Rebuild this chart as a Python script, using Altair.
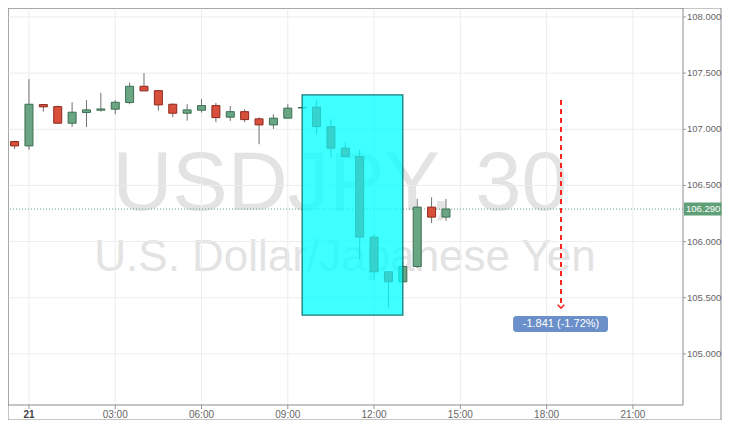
import altair as alt
import pandas as pd

# ---------------- data ----------------
times = [
    "2016-07-20T23:30:00Z", "2016-07-21T00:00:00Z", "2016-07-21T00:30:00Z", "2016-07-21T01:00:00Z",
    "2016-07-21T01:30:00Z", "2016-07-21T02:00:00Z", "2016-07-21T02:30:00Z", "2016-07-21T03:00:00Z",
    "2016-07-21T03:30:00Z", "2016-07-21T04:00:00Z", "2016-07-21T04:30:00Z", "2016-07-21T05:00:00Z",
    "2016-07-21T05:30:00Z", "2016-07-21T06:00:00Z", "2016-07-21T06:30:00Z", "2016-07-21T07:00:00Z",
    "2016-07-21T07:30:00Z", "2016-07-21T08:00:00Z", "2016-07-21T08:30:00Z", "2016-07-21T09:00:00Z",
    "2016-07-21T09:30:00Z", "2016-07-21T10:00:00Z", "2016-07-21T10:30:00Z", "2016-07-21T11:00:00Z",
    "2016-07-21T11:30:00Z", "2016-07-21T12:00:00Z", "2016-07-21T12:30:00Z", "2016-07-21T13:00:00Z",
    "2016-07-21T13:30:00Z", "2016-07-21T14:00:00Z", "2016-07-21T14:30:00Z",
]
opens = [106.891, 106.852, 107.220, 107.202, 107.054, 107.149, 107.170, 107.179,
         107.238, 107.383, 107.344, 107.223, 107.143, 107.170, 107.211, 107.108,
         107.157, 107.093, 107.039, 107.099, 107.190, 107.197, 107.024, 106.832,
         106.757, 106.040, 105.731, 105.642, 105.778, 106.307, 106.218]
closes = [106.852, 107.223, 107.200, 107.054, 107.152, 107.173, 107.181, 107.241,
          107.383, 107.342, 107.217, 107.143, 107.173, 107.211, 107.104, 107.157,
          107.086, 107.039, 107.099, 107.188, 107.194, 107.024, 106.832, 106.757,
          106.040, 105.731, 105.642, 105.778, 106.307, 106.218, 106.290]
highs = [106.897, 107.446, 107.225, 107.211, 107.241, 107.259, 107.324, 107.259,
         107.415, 107.499, 107.344, 107.232, 107.223, 107.270, 107.235, 107.206,
         107.179, 107.108, 107.134, 107.223, 107.196, 107.255, 107.090, 106.885,
         106.817, 106.067, 105.731, 105.820, 106.381, 106.394, 106.380]
lows = [106.823, 106.817, 107.157, 107.054, 107.021, 107.021, 107.157, 107.134,
        107.223, 107.342, 107.166, 107.108, 107.077, 107.149, 107.063, 107.075,
        107.063, 106.867, 107.004, 107.099, 107.190, 106.956, 106.748, 106.757,
        105.844, 105.654, 105.414, 105.642, 105.765, 106.165, 106.185]

tick_times = ["2016-07-21T00:00:00Z", "2016-07-21T03:00:00Z", "2016-07-21T06:00:00Z",
              "2016-07-21T09:00:00Z", "2016-07-21T12:00:00Z", "2016-07-21T15:00:00Z",
              "2016-07-21T18:00:00Z", "2016-07-21T21:00:00Z"]
tick_labels = ["21", "03:00", "06:00", "09:00", "12:00", "15:00", "18:00", "21:00"]
price_ticks = [105.0, 105.5, 106.0, 106.5, 107.0, 107.5, 108.0]
price_labels = ["105.000", "105.500", "106.000", "106.500", "107.000", "107.500", "108.000"]

last_price = 106.290
last_price_label = "106.290"

box_start, box_end = "2016-07-21T09:30:00Z", "2016-07-21T13:00:00Z"
box_top, box_bottom = 107.306, 105.346

arrow_time = "2016-07-21T18:30:00Z"
arrow_from, arrow_to = 107.261, 105.408
change_label = "-1.841 (-1.72%)"
label_left, label_right = "2016-07-21T16:50:00Z", "2016-07-21T20:08:00Z"
label_top, label_bottom, label_mid = 105.337, 105.195, 105.266

title_line1 = "USDJPY, 30"
title_line2 = "U.S. Dollar/Japanese Yen"

# ---------------- tables ----------------
candles = pd.DataFrame({"time": times, "open": opens, "close": closes, "high": highs, "low": lows})
candles["dir"] = ["up" if c >= o else "down" for o, c in zip(opens, closes)]
vticks = pd.DataFrame({"t": tick_times, "label": tick_labels})
hticks = pd.DataFrame({"v": price_ticks, "label": price_labels})
one = pd.DataFrame({"k": [0]})

W, H = 675, 397
FONT = "Liberation Sans"
GREEN, GREEN_D = "#6aa684", "#3d6e52"
RED, RED_D = "#d8503c", "#8e2a1e"
BORDER = "#8c8c8c"

xs = alt.Scale(type="utc", domain=[
    alt.DateTime(year=2016, month=7, date=20, hours=23, minutes=26, seconds=42, utc=True),
    alt.DateTime(year=2016, month=7, date=21, hours=22, minutes=34, seconds=5, utc=True)])
ys = alt.Scale(domain=[104.545, 108.080], nice=False, zero=False)


def X(f):
    return alt.X(f, scale=xs, axis=None)


def Y(f):
    return alt.Y(f, scale=ys, axis=None)


panel = alt.Chart(one).mark_rect(fill="white", fillOpacity=0, stroke=BORDER, strokeWidth=1).encode(
    x=alt.value(0), x2=alt.value(W + 38), y=alt.value(0), y2=alt.value(H + 15))

wm1 = alt.Chart(one).mark_text(text=title_line1, font=FONT, fontSize=83, color="#e3e3e3",
                               align="center", baseline="alphabetic").encode(
    x=alt.value(332), y=alt.value(202))
wm2 = alt.Chart(one).mark_text(text=title_line2, font=FONT, fontSize=44, color="#e3e3e3",
                               align="center", baseline="alphabetic").encode(
    x=alt.value(337), y=alt.value(263))

grid_v = alt.Chart(vticks).mark_rule(color="#ececec", strokeWidth=1).encode(x=X("t:T"))
grid_h = alt.Chart(hticks).mark_rule(color="#ececec", strokeWidth=1).encode(y=Y("v:Q"))

xtick_marks = alt.Chart(vticks).mark_rule(color="#9a9a9a", strokeWidth=1).encode(
    x=X("t:T"), y=alt.value(H), y2=alt.value(H + 4))
xlab_day = alt.Chart(vticks).transform_filter(alt.datum.label == "21").mark_text(
    font=FONT, fontSize=10, fontWeight="bold", color="#444", baseline="middle").encode(
    x=X("t:T"), y=alt.value(H + 10), text="label:N")
xlab_hour = alt.Chart(vticks).transform_filter(alt.datum.label != "21").mark_text(
    font=FONT, fontSize=10, color="#666", baseline="middle").encode(
    x=X("t:T"), y=alt.value(H + 10), text="label:N")

ytick_marks = alt.Chart(hticks).mark_rule(color="#9a9a9a", strokeWidth=1).encode(
    y=Y("v:Q"), x=alt.value(W), x2=alt.value(W + 3))
ylabs = alt.Chart(hticks).mark_text(font=FONT, fontSize=9.5, color="#666", align="left",
                                    baseline="middle").encode(
    x=alt.value(W + 4), y=Y("v:Q"), text="label:N")

price_line = alt.Chart(pd.DataFrame({"p": [last_price]})).mark_rule(
    color="#5f9f78", strokeDash=[1, 2], strokeWidth=1).encode(y=Y("p:Q"))

wicks = alt.Chart(candles).mark_rule(color="#707070", strokeWidth=1).encode(
    x=X("time:T"), y=Y("low:Q"), y2="high:Q")

bodies = alt.Chart(candles).mark_bar(width=8, strokeWidth=1).encode(
    x=X("time:T"), y=Y("open:Q"), y2="close:Q",
    color=alt.Color("dir:N", scale=alt.Scale(domain=["up", "down"], range=[GREEN, RED]), legend=None),
    stroke=alt.Stroke("dir:N", scale=alt.Scale(domain=["up", "down"], range=[GREEN_D, RED_D]), legend=None),
    opacity=alt.value(1))

box = alt.Chart(pd.DataFrame({"a": [box_start], "b": [box_end], "top": [box_top], "bot": [box_bottom]})).mark_rect(
    fill="#00ffff", fillOpacity=0.75, stroke="#147a78", strokeWidth=1.3).encode(
    x=X("a:T"), x2="b:T", y=Y("top:Q"), y2="bot:Q")

arrow_df = pd.DataFrame({"t": [arrow_time], "y0": [arrow_from], "y1": [arrow_to]})
arrow = alt.Chart(arrow_df).mark_rule(color="#ff2424", strokeWidth=2, strokeDash=[5, 4]).encode(
    x=X("t:T"), y=Y("y0:Q"), y2="y1:Q")
arrow_head = alt.Chart(arrow_df).mark_point(shape="M-1,-1L0,0L1,-1", filled=False, color="#ff2424",
                                            strokeWidth=1.5, size=45, opacity=1).encode(
    x=X("t:T"), y=Y("y1:Q"))

lab_df = pd.DataFrame({"a": [label_left], "b": [label_right], "top": [label_top], "bot": [label_bottom],
                       "t": [arrow_time], "m": [label_mid], "txt": [change_label]})
lab_rect = alt.Chart(lab_df).mark_rect(fill="#6b8fc9", cornerRadius=3).encode(
    x=X("a:T"), x2="b:T", y=Y("top:Q"), y2="bot:Q")
lab_text = alt.Chart(lab_df).mark_text(color="white", font=FONT, fontSize=11, align="center",
                                       baseline="middle").encode(
    x=X("t:T"), y=Y("m:Q"), text="txt:N")

tag_df = pd.DataFrame({"p": [last_price], "hi": [last_price + 0.058], "lo": [last_price - 0.058],
                       "txt": [last_price_label]})
tag_rect = alt.Chart(tag_df).mark_rect(fill="#5f9f78").encode(
    x=alt.value(W + 1), x2=alt.value(W + 38.5), y=Y("hi:Q"), y2="lo:Q")
tag_text = alt.Chart(tag_df).mark_text(color="white", font=FONT, fontSize=9.5, align="left",
                                       baseline="middle").encode(
    x=alt.value(W + 3), y=Y("p:Q"), text="txt:N")

frame = alt.Chart(one).mark_rect(fill="white", fillOpacity=0, stroke=BORDER, strokeWidth=1).encode(
    x=alt.value(0), x2=alt.value(W), y=alt.value(0), y2=alt.value(H))

chart = alt.layer(
    panel, wm1, wm2, grid_v, grid_h, price_line, wicks, bodies, box, arrow, arrow_head,
    lab_rect, lab_text, tag_rect, tag_text, xtick_marks, xlab_day, xlab_hour, ytick_marks, ylabs, frame
).properties(
    width=W, height=H,
    autosize=alt.AutoSizeParams(type="none"),
    padding={"left": 0, "top": 0, "right": 39, "bottom": 15},
).configure(background="white").configure_view(stroke=None)

chart.save("out.html", embed_options={"renderer": "svg", "actions": False})
